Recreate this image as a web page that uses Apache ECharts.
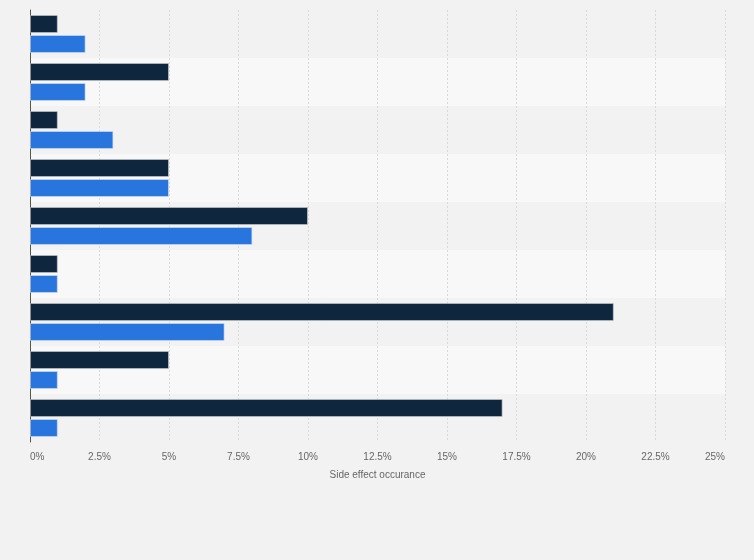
<!DOCTYPE html>
<html>
<head>
<meta charset="utf-8">
<script src="https://cdn.jsdelivr.net/npm/echarts@6/dist/echarts.min.js"></script>
<style>
html,body{margin:0;padding:0;background:#f2f2f2;}
#chart{width:754px;height:560px;}
</style>
</head>
<body>
<div id="chart"></div>
<script>
const categories = ['Side effect 1','Side effect 2','Side effect 3','Side effect 4','Side effect 5','Side effect 6','Side effect 7','Side effect 8','Side effect 9'];
const seriesNames = ['Series 1','Series 2'];
const darkValues = [1, 5, 1, 5, 10, 1, 21, 5, 17];
const blueValues = [2, 2, 3, 5, 8, 1, 7, 1, 1];
const axisName = 'Side effect occurance';

const chart = echarts.init(document.getElementById('chart'), null, {renderer:'canvas'});
chart.setOption({
  backgroundColor: '#f2f2f2',
  animation: false,
  textStyle: {fontFamily: '"Liberation Sans", Arial, sans-serif'},
  grid: {left: 30, right: 29, top: 10, bottom: 118, containLabel: false},
  xAxis: {
    type: 'value', min: 0, max: 25, interval: 2.5,
    name: axisName, nameLocation: 'middle', nameGap: 28,
    nameTextStyle: {color: '#666', fontSize: 10},
    axisLine: {show: false}, axisTick: {show: false},
    axisLabel: {color: '#666', fontSize: 10, margin: 10,
      formatter: v => v + '%', alignMinLabel: 'left', alignMaxLabel: 'right'},
    splitLine: {show: true, lineStyle: {color: '#d9d9d9', type: [2, 2], width: 1}}
  },
  yAxis: {
    type: 'category', data: categories, inverse: true,
    axisLine: {show: true, lineStyle: {color: '#555', width: 1}},
    axisTick: {show: false}, axisLabel: {show: false},
    splitArea: {show: true, areaStyle: {color: ['#f2f2f2', '#f8f8f8']}}
  },
  series: [
    {name: seriesNames[0], type: 'bar', data: darkValues, barWidth: 18, barGap: '11%', barCategoryGap: '21%',
     itemStyle: {color: '#0f263f', borderColor: 'rgba(200,200,200,0.6)', borderWidth: 1}},
    {name: seriesNames[1], type: 'bar', data: blueValues, barWidth: 18,
     itemStyle: {color: '#2876dd', borderColor: 'rgba(220,220,240,0.6)', borderWidth: 1}}
  ]
});
</script>
</body>
</html>
